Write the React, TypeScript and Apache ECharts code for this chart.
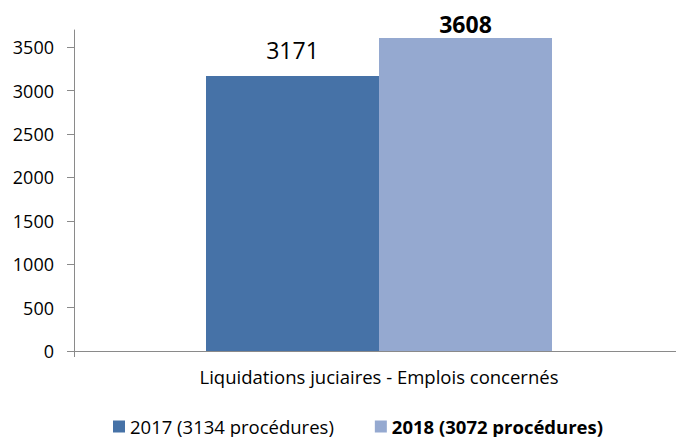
import React, { useEffect, useRef } from "react";
import * as echarts from "echarts";

const categories = ["Liquidations juciaires - Emplois concernés"];
const seriesNames = ["2017 (3134 procédures)", "2018 (3072 procédures)"];
const values2017 = [3171];
const values2018 = [3608];
const yTicks = [0, 500, 1000, 1500, 2000, 2500, 3000, 3500];

const FONT = "'Open Sans', 'Noto Sans', sans-serif";

export default function App() {
  const ref = useRef<HTMLDivElement>(null);
  useEffect(() => {
    if (!ref.current) return;
    const chart = echarts.init(ref.current, undefined, { renderer: "svg" });
    chart.setOption({
      animation: false,
      backgroundColor: "#ffffff",
      textStyle: { fontFamily: FONT },
      grid: { left: 74, right: 0, top: 30, bottom: 86, containLabel: false },
      legend: {
        left: 113,
        top: 417,
        padding: 0,
        itemWidth: 12,
        itemHeight: 12,
        itemGap: 41,
        icon: "rect",
        textStyle: { fontFamily: FONT, fontSize: 18.5, lineHeight: 18, color: "#000" },
        data: [
          { name: seriesNames[0] },
          { name: seriesNames[1], textStyle: { fontWeight: "bold" } },
        ],
      },
      xAxis: {
        type: "category",
        data: categories,
        axisLine: { lineStyle: { color: "#8a8a8a", width: 1 } },
        axisTick: { show: true, length: 6, lineStyle: { color: "#8a8a8a" } },
        axisLabel: { fontFamily: FONT, fontSize: 18.5, color: "#000", margin: 16 },
      },
      yAxis: {
        type: "value",
        min: 0,
        max: 3700,
        interval: 500,
        splitLine: { show: false },
        axisLine: { show: true, lineStyle: { color: "#8a8a8a", width: 1 } },
        axisTick: {
          show: true,
          length: 7,
          lineStyle: { color: "#8a8a8a" },
          customValues: yTicks,
        },
        axisLabel: {
          fontFamily: FONT,
          fontSize: 18,
          color: "#000",
          margin: 20,
          customValues: yTicks,
          formatter: (v: number) => String(v),
        },
      },
      series: [
        {
          name: seriesNames[0],
          type: "bar",
          data: values2017,
          barWidth: 173,
          barGap: "0%",
          itemStyle: { color: "#4672a7" },
          label: {
            show: true,
            position: "top",
            distance: 14,
            fontFamily: FONT,
            fontSize: 23,
            color: "#000",
          },
        },
        {
          name: seriesNames[1],
          type: "bar",
          data: values2018,
          barWidth: 173,
          barGap: "0%",
          itemStyle: { color: "#95a9d0" },
          label: {
            show: true,
            position: "top",
            distance: 2,
            fontFamily: FONT,
            fontSize: 23,
            fontWeight: "bold",
            color: "#000",
          },
        },
      ],
    });
    return () => chart.dispose();
  }, []);
  return (
    <div style={{ position: "fixed", left: 0, top: 0, width: 676, height: 437, overflow: "hidden" }}>
      <div ref={ref} style={{ width: 684, height: 437 }} />
    </div>
  );
}
